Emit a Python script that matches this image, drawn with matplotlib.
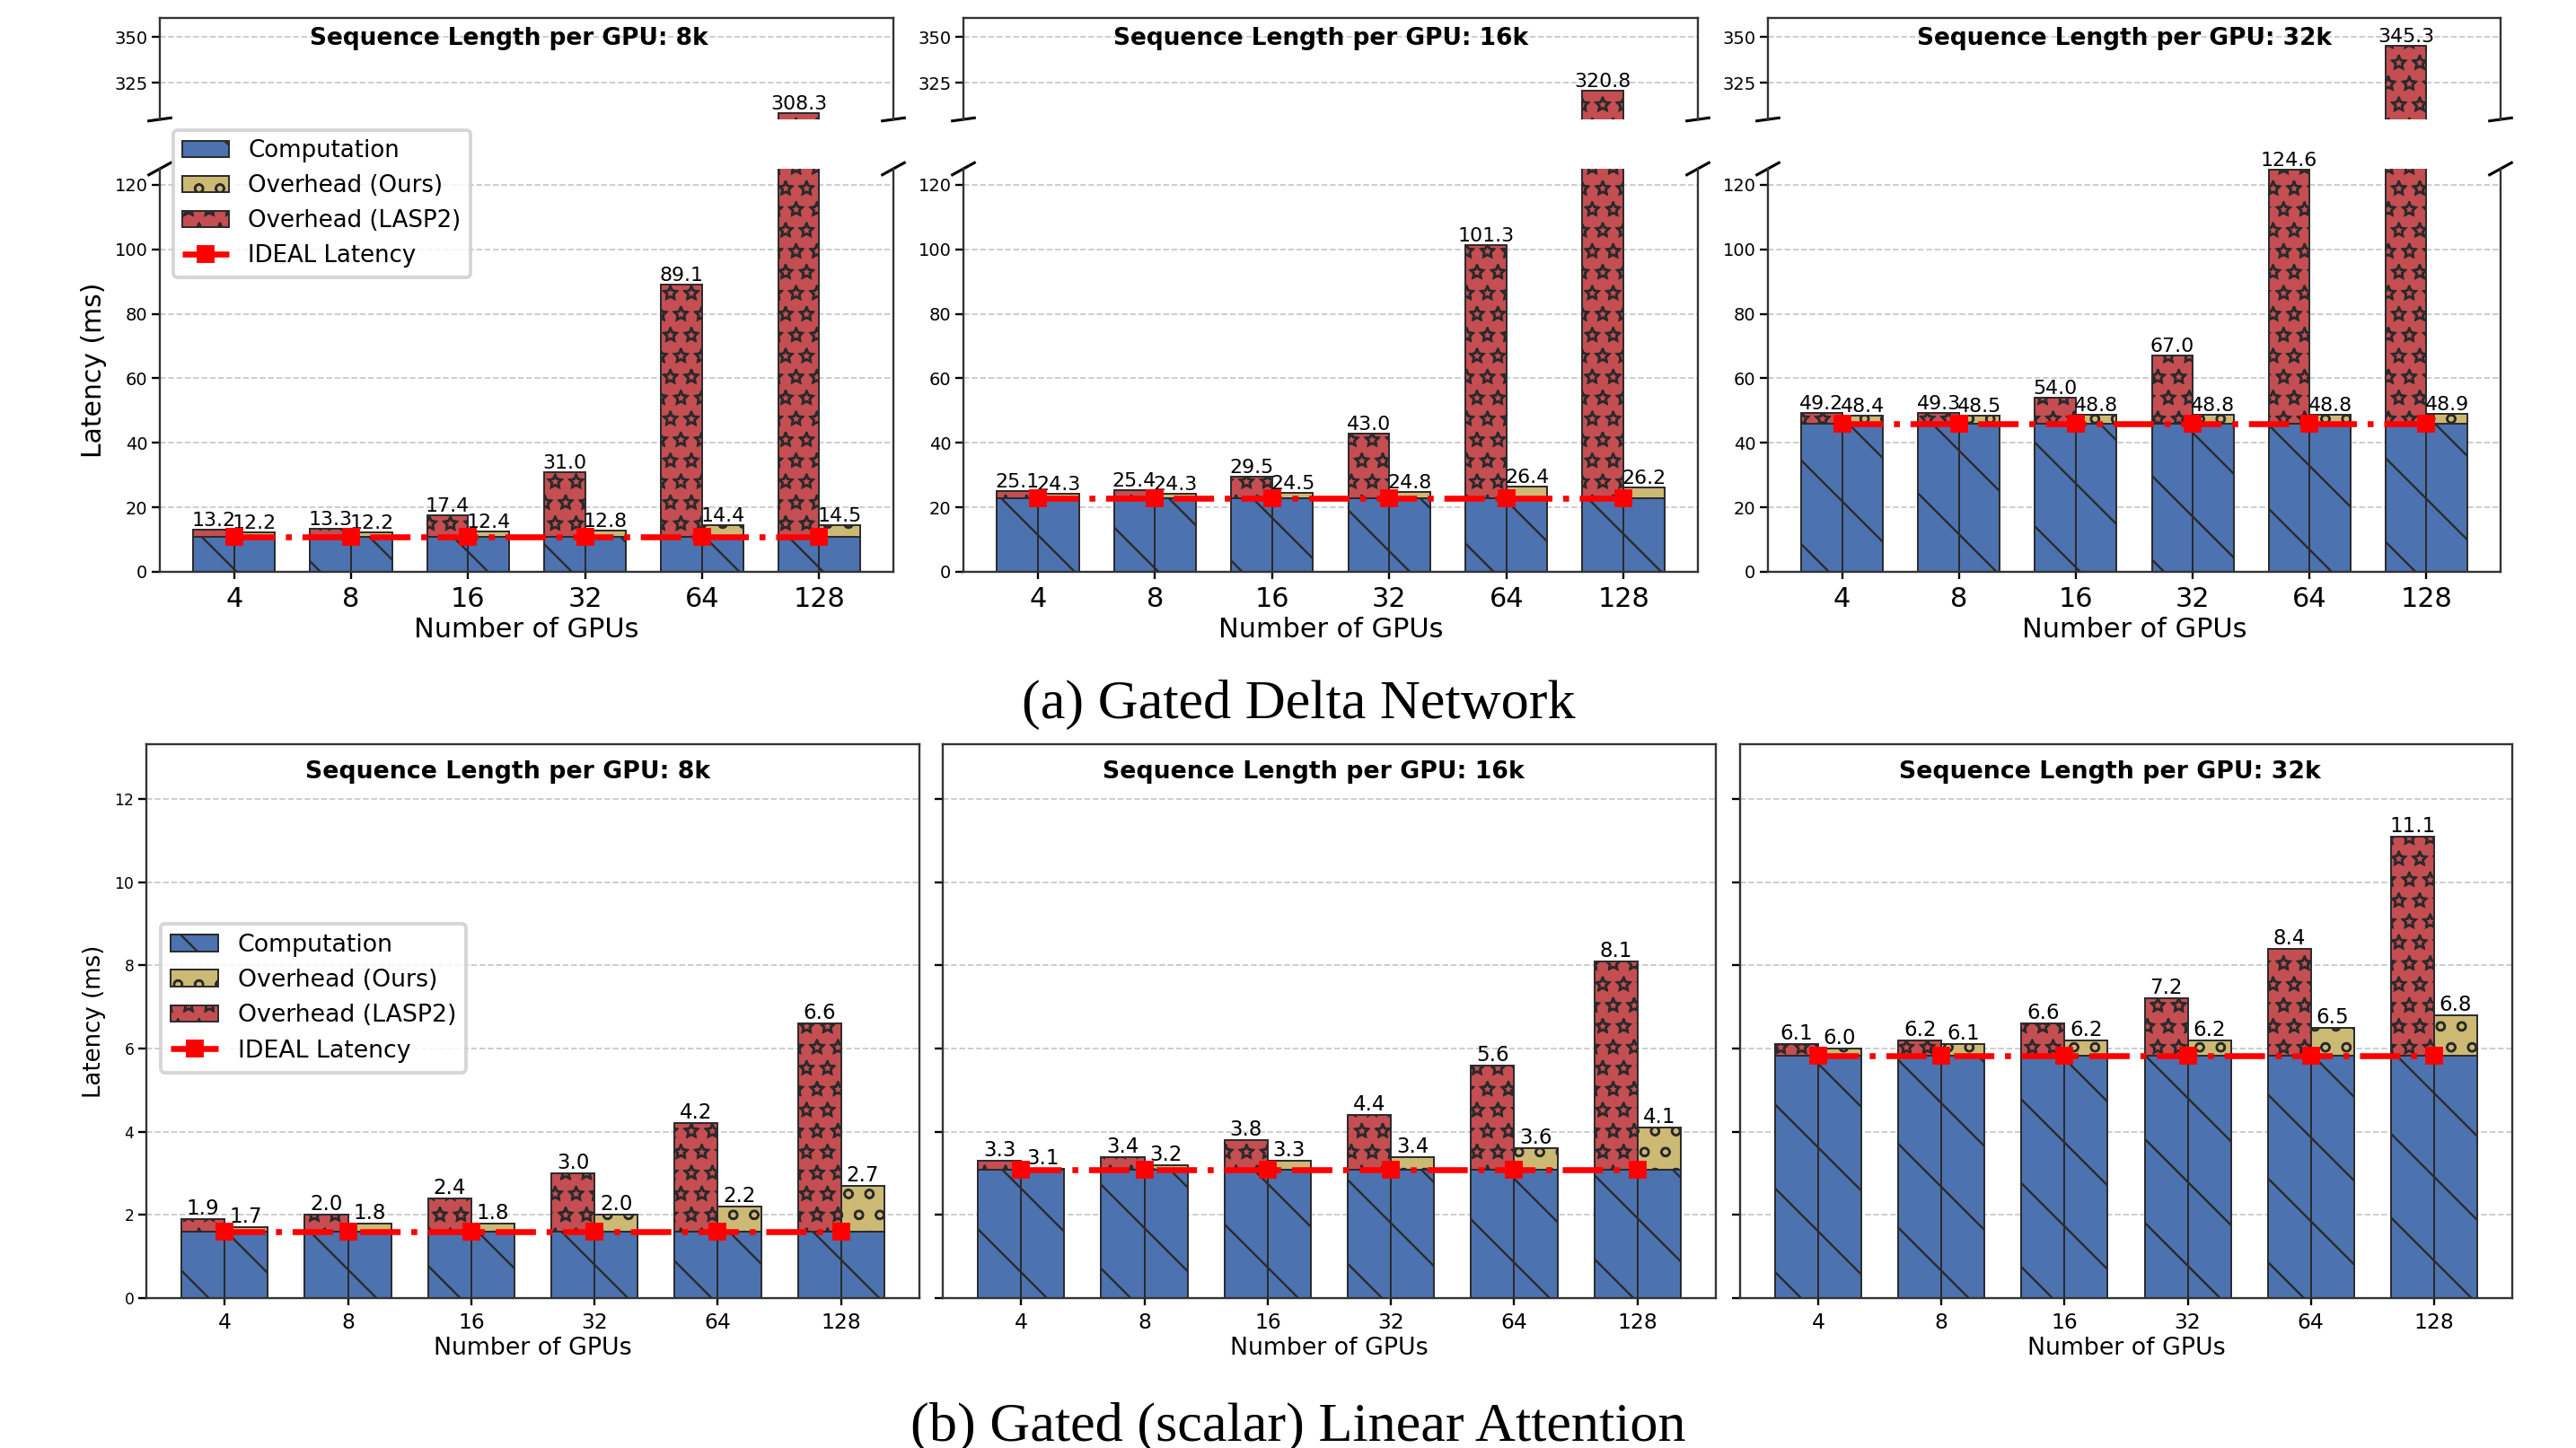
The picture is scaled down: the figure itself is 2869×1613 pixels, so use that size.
import numpy as np
import matplotlib
matplotlib.use("Agg")
import matplotlib.pyplot as plt
import matplotlib.hatch as mhatch
from matplotlib.path import Path
from matplotlib.patches import Patch
from matplotlib.lines import Line2D

# ── data ─────────────────────────────────────────────
gpu_counts = ["4", "8", "16", "32", "64", "128"]
seq_lens = ["8k", "16k", "32k"]

# (a) Gated Delta Network: computation, totals with LASP2, totals with ours
gdn_compute = [10.9, 22.9, 45.9]
gdn_lasp2 = [
    [13.2, 13.3, 17.4, 31.0, 89.1, 308.3],
    [25.1, 25.4, 29.5, 43.0, 101.3, 320.8],
    [49.2, 49.3, 54.0, 67.0, 124.6, 345.3],
]
gdn_ours = [
    [12.2, 12.2, 12.4, 12.8, 14.4, 14.5],
    [24.3, 24.3, 24.5, 24.8, 26.4, 26.2],
    [48.4, 48.5, 48.8, 48.8, 48.8, 48.9],
]

# (b) Gated (scalar) Linear Attention
gla_compute = [1.6, 3.08, 5.82]
gla_lasp2 = [
    [1.9, 2.0, 2.4, 3.0, 4.2, 6.6],
    [3.3, 3.4, 3.8, 4.4, 5.6, 8.1],
    [6.1, 6.2, 6.6, 7.2, 8.4, 11.1],
]
gla_ours = [
    [1.7, 1.8, 1.8, 2.0, 2.2, 2.7],
    [3.1, 3.2, 3.3, 3.4, 3.6, 4.1],
    [6.0, 6.1, 6.2, 6.2, 6.5, 6.8],
]

# ── style ────────────────────────────────────────────
W, H, DPI = 2869, 1613, 280
C_COMP = "#4C72B0"
C_OURS = "#CCB974"
C_LASP = "#C44E52"
EDGE = "#2a2a2a"
BAR_W = 0.35
IDEAL_LS = (0, (6.8, 1.8, 1.0, 1.8))


# outlined (hollow) stars for the '*' hatch
class HollowStars(mhatch.Shapes):
    size = 1.0 / 3.0
    filled = False

    def __init__(self, hatch, density):
        self.num_rows = hatch.count("*") * density
        path = Path.unit_regular_star(5)
        self.shape_vertices = path.vertices
        self.shape_codes = np.full(len(self.shape_vertices), Path.LINETO,
                                   dtype=Path.code_type)
        self.shape_codes[0] = Path.MOVETO
        super().__init__(hatch, density)


mhatch._hatch_types = [HollowStars if t is mhatch.Stars else t
                       for t in mhatch._hatch_types]

plt.rcParams.update({
    "font.family": "DejaVu Sans",
    "hatch.linewidth": 0.6,
    "axes.linewidth": 0.6,
    "axes.edgecolor": "#333333",
    "xtick.major.width": 0.6,
    "ytick.major.width": 0.6,
    "xtick.major.size": 2.0,
    "ytick.major.size": 2.3,
    "xtick.major.pad": 2.0,
    "ytick.major.pad": 1.2,
})

fig = plt.figure(figsize=(W / DPI, H / DPI), dpi=DPI, facecolor="white")


def rect(x0, x1, y0, y1):
    return [x0 / W, 1 - y1 / H, (x1 - x0) / W, (y1 - y0) / H]


def draw_groups(ax, comp, lasp2, ours):
    x = np.arange(len(gpu_counts))
    base = np.full(len(x), comp)
    lasp2 = np.asarray(lasp2)
    ours = np.asarray(ours)
    kw = dict(width=BAR_W, edgecolor=EDGE, linewidth=0.5, zorder=2)
    ax.bar(x - BAR_W / 2, base, color=C_COMP, hatch="\\", **kw)
    ax.bar(x - BAR_W / 2, lasp2 - base, bottom=base, color=C_LASP, hatch="**", **kw)
    ax.bar(x + BAR_W / 2, base, color=C_COMP, hatch="\\", **kw)
    ax.bar(x + BAR_W / 2, ours - base, bottom=base, color=C_OURS, hatch="oo", **kw)
    ax.plot(x, base, color="red", ls=IDEAL_LS, lw=1.7, marker="s", ms=4.0, zorder=4)
    ax.yaxis.grid(True, ls="--", color="#c8c8c8", lw=0.45)
    ax.set_axisbelow(True)
    return x


def value_labels(ax, x, lasp2, ours, fs, lo=None, hi=None):
    for xi, v in zip(x - BAR_W / 2, lasp2):
        if (lo is None or v > lo) and (hi is None or v < hi):
            ax.text(xi, v, f"{v:.1f}", ha="center", va="bottom", fontsize=fs)
    for xi, v in zip(x + BAR_W / 2, ours):
        if (lo is None or v > lo) and (hi is None or v < hi):
            ax.text(xi, v, f"{v:.1f}", ha="center", va="bottom", fontsize=fs)


legend_handles = [
    Patch(facecolor=C_COMP, edgecolor=EDGE, hatch="\\", lw=0.5, label="Computation"),
    Patch(facecolor=C_OURS, edgecolor=EDGE, hatch="oo", lw=0.5, label="Overhead (Ours)"),
    Patch(facecolor=C_LASP, edgecolor=EDGE, hatch="**", lw=0.5, label="Overhead (LASP2)"),
    Line2D([], [], color="red", ls="--", lw=1.7, marker="s", ms=4.0, label="IDEAL Latency"),
]

# ── (a) Gated Delta Network: broken y axis ───────────
TOP_X = [(178, 995), (1073, 1891), (1969, 2785)]
TOP_UP = (20, 133)
TOP_LO = (188, 637)
TOP_TITLE_X = [0.476, 0.487, 0.487]
UP_LIM, LO_LIM = (305, 360.5), (0, 125)

for k in range(3):
    x0, x1 = TOP_X[k]
    ax_up = fig.add_axes(rect(x0, x1, *TOP_UP))
    ax_lo = fig.add_axes(rect(x0, x1, *TOP_LO), sharex=ax_up)
    for ax in (ax_up, ax_lo):
        x = draw_groups(ax, gdn_compute[k], gdn_lasp2[k], gdn_ours[k])
    ax_up.set_ylim(*UP_LIM)
    ax_lo.set_ylim(*LO_LIM)
    ax_up.set_yticks([325, 350])
    ax_lo.set_yticks(range(0, 121, 20))
    ax_up.spines["bottom"].set_visible(False)
    ax_lo.spines["top"].set_visible(False)
    ax_up.tick_params(axis="x", bottom=False, labelbottom=False)
    ax_up.tick_params(axis="y", labelsize=5)
    ax_lo.tick_params(axis="y", labelsize=5)
    ax_lo.set_xticks(x, gpu_counts)
    ax_lo.tick_params(axis="x", labelsize=7.8)
    ax_lo.set_xlabel("Number of GPUs", fontsize=7.8, labelpad=1.5)

    value_labels(ax_lo, x, gdn_lasp2[k], gdn_ours[k], 5.7, hi=LO_LIM[1])
    value_labels(ax_up, x, gdn_lasp2[k], gdn_ours[k], 5.7, lo=UP_LIM[0])

    ax_up.text(TOP_TITLE_X[k], 0.80, f"Sequence Length per GPU: {seq_lens[k]}",
               transform=ax_up.transAxes, ha="center", va="center",
               fontsize=6.8, fontweight="bold")

    # break marks
    d = 0.015
    kw = dict(color="k", clip_on=False, lw=0.8)
    ax_up.plot((-d, d), (-d, d), transform=ax_up.transAxes, **kw)
    ax_up.plot((1 - d, 1 + d), (-d, d), transform=ax_up.transAxes, **kw)
    ax_lo.plot((-d, d), (1 - d, 1 + d), transform=ax_lo.transAxes, **kw)
    ax_lo.plot((1 - d, 1 + d), (1 - d, 1 + d), transform=ax_lo.transAxes, **kw)

    if k == 0:
        ax_lo.set_ylabel("Latency (ms)", fontsize=7.7)
        ax_lo.yaxis.set_label_coords(-0.072, 0.5)
        ax_lo.legend(handles=legend_handles, loc="upper left",
                     bbox_to_anchor=(0.018, 1.096), borderaxespad=0,
                     fontsize=6.7)

# ── (b) Gated (scalar) Linear Attention ──────────────
BOT_X = [(163, 1024), (1050, 1911), (1938, 2798)]
BOT_Y = (829, 1446)
BOT_TITLE_X = [0.468, 0.48, 0.479]
first = None
for k in range(3):
    x0, x1 = BOT_X[k]
    ax = fig.add_axes(rect(x0, x1, *BOT_Y), sharey=first)
    if first is None:
        first = ax
    x = draw_groups(ax, gla_compute[k], gla_lasp2[k], gla_ours[k])
    ax.set_ylim(0, max(max(v) for v in gla_lasp2) * 1.2)
    ax.set_yticks(range(0, 13, 2))
    ax.set_xticks(x, gpu_counts)
    ax.tick_params(axis="x", labelsize=6.0)
    ax.tick_params(axis="y", labelsize=4.4, labelleft=(k == 0))
    ax.set_xlabel("Number of GPUs", fontsize=6.9, labelpad=1.2)
    value_labels(ax, x, gla_lasp2[k], gla_ours[k], 5.9)
    ax.text(BOT_TITLE_X[k], 0.95, f"Sequence Length per GPU: {seq_lens[k]}",
            transform=ax.transAxes, ha="center", va="center",
            fontsize=6.9, fontweight="bold")
    if k == 0:
        ax.set_ylabel("Latency (ms)", fontsize=6.7)
        ax.yaxis.set_label_coords(-0.052, 0.5)
        ax.legend(handles=legend_handles, loc="upper left",
                  bbox_to_anchor=(0.0186, 0.676), borderaxespad=0,
                  fontsize=6.9)

# ── captions ─────────────────────────────────────────
fig.text(1446 / W, 1 - 800 / H, "(a) Gated Delta Network", ha="center",
         va="baseline", fontsize=16, family="Liberation Serif")
fig.text(1446 / W, 1 - 1605 / H, "(b) Gated (scalar) Linear Attention",
         ha="center", va="baseline", fontsize=16, family="Liberation Serif")

fig.savefig("out.png", dpi=DPI, facecolor="white")
